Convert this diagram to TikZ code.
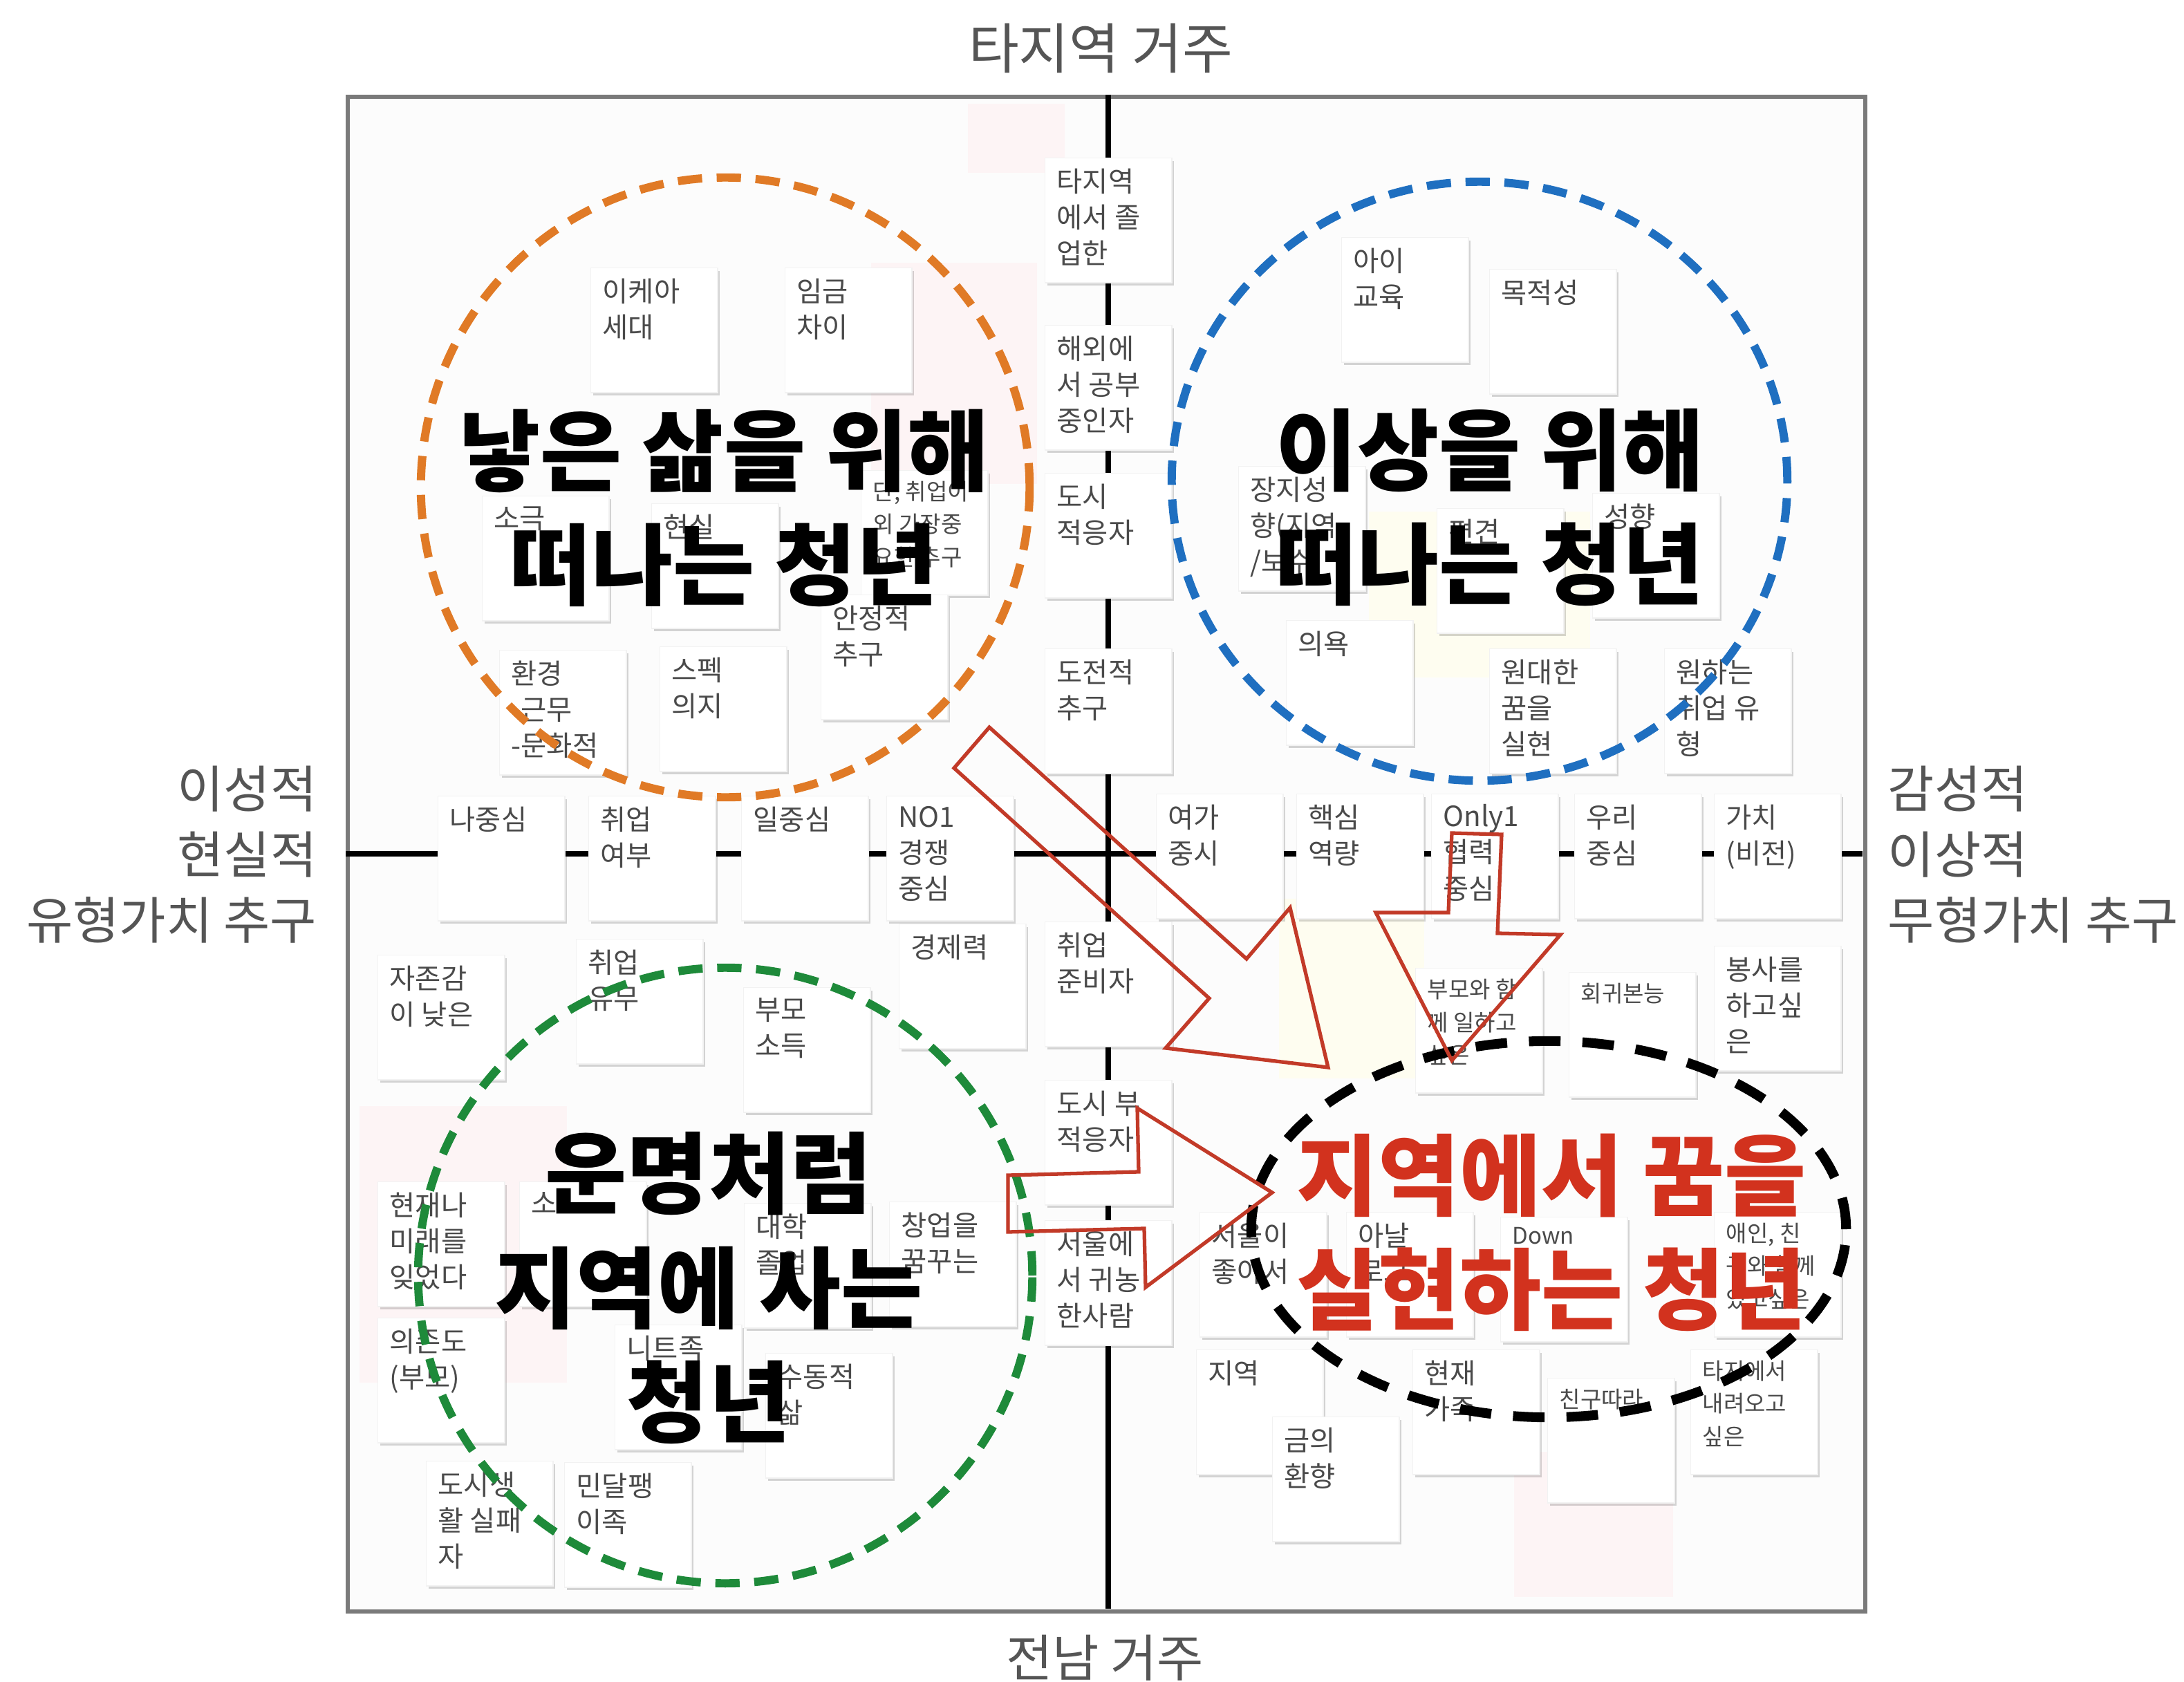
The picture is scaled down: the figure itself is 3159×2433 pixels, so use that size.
\documentclass[tikz,border=0pt]{standalone}
\usepackage{fontspec}
\setmainfont{Noto Sans CJK KR}
\usetikzlibrary{shadows}
\definecolor{notetxt}{HTML}{4A4A4A}
\definecolor{axtxt}{HTML}{555555}
\definecolor{orangeC}{HTML}{E07A26}
\definecolor{blueC}{HTML}{1F6FC0}
\definecolor{greenC}{HTML}{1E8A3A}
\definecolor{arrowC}{HTML}{C23A28}
\definecolor{redT}{HTML}{D2321E}
\definecolor{frameC}{HTML}{7A7A7A}
\definecolor{pinkP}{HTML}{FDF4F5}
\definecolor{yellowP}{HTML}{FEFDF0}
\tikzset{
  stickybox/.style={draw=black!5, fill=white, minimum width=1.83cm, minimum height=1.80cm, inner sep=0pt,
    drop shadow={shadow xshift=0.03cm, shadow yshift=-0.04cm, opacity=0.16, fill=black}},
  stickytext/.style={inner sep=0pt, align=left, text=notetxt, font=\fontsize{11.5}{14.8}\selectfont},
  smalltext/.style={stickytext, font=\fontsize{9.4}{13.6}\selectfont},
  axislabel/.style={inner sep=0pt, text=axtxt, font=\fontsize{20.8}{27}\selectfont},
  bigtitle/.style={inner sep=0pt, align=center, font=\fontsize{36.5}{47}\selectfont\bfseries},
  quadaxis/.style={black, line width=2pt},
  groupring/.style={line width=3.4pt, dash pattern=on 10pt off 6pt},
  blockarrow/.style={draw=arrowC, line width=1.5pt, line join=miter}
}
\newcommand\stk[5][stickytext]{%
  \node[stickybox, anchor=north west] (#2) at (#3,#4) {};
  \node[#1, anchor=north west] (#2t) at ([xshift=0.17cm, yshift=-0.15cm]#2.north west) {#5};}
\begin{document}
\begin{tikzpicture}[x=0.01cm, y=-0.01cm]
\useasboundingbox (0,0) rectangle (3159,2433);
\fill[white] (0,0) rectangle (3159,2433);
% frame
\node[draw=frameC, line width=1.7pt, fill=black!1, minimum width=21.94cm, minimum height=21.90cm, inner sep=0pt, anchor=north west] (frame) at (500,137) {};
% faint background patches
\fill[pinkP] (1400,150) rectangle (1540,250);
\fill[pinkP] (1260,380) rectangle (1500,700);
\fill[pinkP] (520,1600) rectangle (820,2000);
\fill[pinkP] (2190,2100) rectangle (2420,2310);
\fill[yellowP] (1850,1300) rectangle (2060,1560);
\fill[yellowP] (1980,740) rectangle (2300,980);
% axes
\coordinate (axT) at (1603,137);
\coordinate (axB) at (1603,2327);
\coordinate (axL) at (500,1235);
\coordinate (axR) at (2694,1235);
\draw[quadaxis] (axT) -- (axB);
\draw[quadaxis] (axL) -- (axR);
% axis labels
\node[axislabel, font=\fontsize{22.5}{27}\selectfont] (lblT) at (1592,70) {타지역 거주};
\node[axislabel] (lblB) at (1598,2398) {전남 거주};
\node[axislabel, anchor=east, align=right] (lblL) at (459,1236) {이성적\\현실적\\유형가치 추구};
\node[axislabel, anchor=west, align=left] (lblR) at (2730,1236) {감성적\\이상적\\무형가치 추구};
% vertical column
\stk{c1}{1511}{228}{타지역\\에서 졸\\업한}
\stk{c2}{1511}{470}{해외에\\서 공부\\중인자}
\stk{c3}{1511}{684}{도시\\적응자}
\stk{c4}{1511}{938}{도전적\\추구}
\stk{c5}{1511}{1333}{취업\\준비자}
\stk{c6}{1511}{1562}{도시 부\\적응자}
\stk{c7}{1511}{1765}{서울에\\서 귀농\\한사람}
% horizontal row
\stk{r1}{633}{1151}{나중심}
\stk{r2}{851}{1151}{취업\\여부}
\stk{r3}{1072}{1151}{일중심}
\stk{r4}{1282}{1151}{NO1\\경쟁\\중심}
\stk{r5}{1672}{1148}{여가\\중시}
\stk{r6}{1875}{1148}{핵심\\역량}
\stk{r7}{2070}{1148}{Only1\\협력\\중심}
\stk{r8}{2277}{1148}{우리\\중심}
\stk{r9}{2479}{1148}{가치\\(비전)}
% top-left
\stk{a1}{854}{387}{이케아\\세대}
\stk{a2}{1135}{387}{임금\\차이}
\stk{a3}{697}{717}{소극}
\stk{a4}{942}{728}{현실}
\stk[smalltext]{a5}{1245}{680}{단, 취업이\\외 가장중\\요한 추구}
\stk{a6}{1187}{860}{안정적\\추구}
\stk{a7}{722}{940}{환경\\-근무\\-문화적}
\stk{a8}{954}{935}{스펙\\의지}
% top-right
\stk{b1}{1940}{343}{아이\\교육}
\stk{b2}{2154}{389}{목적성}
\stk{b3}{1791}{674}{장지성\\향(지역\\/보수)}
\stk{b4}{2078}{735}{편견}
\stk{b5}{2303}{713}{성향}
\stk{b6}{1860}{897}{의욕}
\stk{b7}{2154}{938}{원대한\\꿈을\\실현}
\stk{b8}{2407}{938}{원하는\\취업 유\\형}
% bottom-left
\stk{d1}{546}{1381}{자존감\\이 낮은}
\stk{d2}{833}{1358}{취업\\유무}
\stk{d3}{1075}{1428}{부모\\소득}
\stk{d4}{1300}{1336}{경제력}
\stk{d5}{546}{1709}{현재나\\미래를\\잊었다}
\stk{d6}{751}{1709}{소}
\stk{d7}{1076}{1740}{대학\\졸업}
\stk{d8}{1286}{1738}{창업을\\꿈꾸는}
\stk{d9}{546}{1906}{의존도\\(부모)}
\stk{d10}{889}{1916}{니트족}
\stk{d11}{1107}{1957}{수동적\\삶}
\stk{d12}{616}{2113}{도시생\\활 실패\\자}
\stk{d13}{816}{2115}{민달팽\\이족}
% bottom-right
\stk[smalltext]{e1}{2047}{1400}{부모와 함\\께 일하고\\싶은}
\stk[smalltext]{e2}{2269}{1406}{회귀본능}
\stk{e3}{2479}{1368}{봉사를\\하고싶\\은}
\stk{e4}{1735}{1753}{서울이\\좋아서}
\stk{e5}{1947}{1753}{아날\\로그}
\stk[smalltext]{e6}{2170}{1760}{Down}
\stk[smalltext]{e7}{2479}{1753}{애인, 친\\구와 함께\\있고싶은}
\stk{e8}{1730}{1952}{지역}
\stk{e9}{1840}{2049}{금의\\환향}
\stk{e10}{2043}{1952}{현재\\가족}
\stk[smalltext]{e11}{2238}{1993}{친구따라}
\stk[smalltext]{e12}{2445}{1952}{타지에서\\내려오고\\싶은}
% group rings
\draw[groupring, orangeC] (1049,705) ellipse [x radius=4.40cm, y radius=4.48cm];
\draw[groupring, blueC] (2140,696) ellipse [x radius=4.45cm, y radius=4.33cm];
\draw[groupring, greenC] (1049,1845) ellipse [x radius=4.44cm, y radius=4.45cm];
\draw[black, line width=4pt, dash pattern=on 13pt off 9pt] (2240,1778) ellipse [x radius=4.30cm, y radius=2.72cm];
% block arrows
\draw[blockarrow] (1431,1052) -- (1803,1387) -- (1866,1313) -- (1921,1544) -- (1686,1516) -- (1749,1444) -- (1380,1111) -- cycle;
\draw[blockarrow] (2100,1205) -- (2172,1207) -- (2166,1350) -- (2257,1352) -- (2100,1534) -- (1990,1320) -- (2095,1320) -- cycle;
\draw[blockarrow] (1458,1700) -- (1647,1695) -- (1645,1603) -- (1840,1725) -- (1657,1862) -- (1655,1777) -- (1458,1782) -- cycle;
% titles
\node[bigtitle] (tOrange) at (1047,735) {낳은 삶을 위해\\떠나는 청년};
\node[bigtitle] (tBlue) at (2155,734) {이상을 위해\\떠나는 청년};
\node[bigtitle] (tGreen) at (1025,1863) {운명처럼\\지역에 사는\\청년};
\node[bigtitle, text=redT] (tRed) at (2244,1783) {지역에서 꿈을\\실현하는 청년};
\end{tikzpicture}
\end{document}
